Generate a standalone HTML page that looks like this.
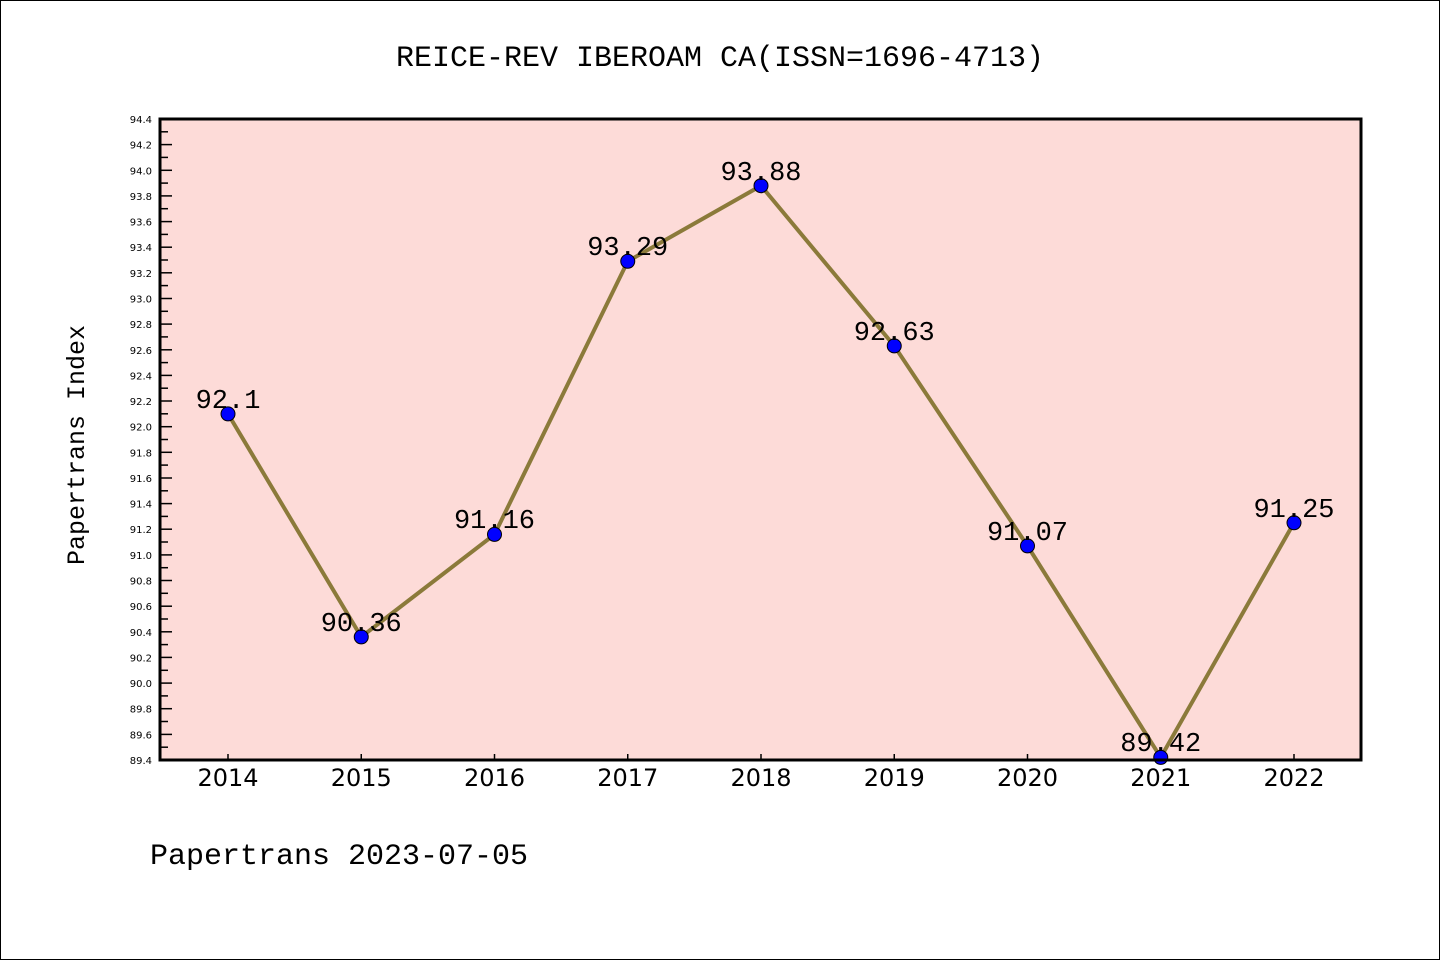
<!DOCTYPE html>
<html><head><meta charset="utf-8"><style>
html,body{margin:0;padding:0;background:#fff}
svg{display:block}
</style></head><body>
<svg width="1440" height="960" viewBox="0 0 1440 960" xmlns="http://www.w3.org/2000/svg">
<rect x="0.5" y="0.5" width="1439" height="959" fill="#fff" stroke="#000" stroke-width="1"/>
<text x="720" y="66" font-family="Liberation Mono, monospace" font-size="30" text-anchor="middle">REICE-REV IBEROAM CA(ISSN=1696-4713)</text>
<rect x="160" y="119" width="1201" height="641" fill="#fddbd8"/>
<g stroke="#000" stroke-width="1.5">
<line x1="160" y1="760" x2="172" y2="760"/><line x1="160" y1="734.4" x2="172" y2="734.4"/><line x1="160" y1="708.7" x2="172" y2="708.7"/><line x1="160" y1="683.1" x2="172" y2="683.1"/><line x1="160" y1="657.4" x2="172" y2="657.4"/><line x1="160" y1="631.8" x2="172" y2="631.8"/><line x1="160" y1="606.2" x2="172" y2="606.2"/><line x1="160" y1="580.5" x2="172" y2="580.5"/><line x1="160" y1="554.9" x2="172" y2="554.9"/><line x1="160" y1="529.2" x2="172" y2="529.2"/><line x1="160" y1="503.6" x2="172" y2="503.6"/><line x1="160" y1="478" x2="172" y2="478"/><line x1="160" y1="452.3" x2="172" y2="452.3"/><line x1="160" y1="426.7" x2="172" y2="426.7"/><line x1="160" y1="401" x2="172" y2="401"/><line x1="160" y1="375.4" x2="172" y2="375.4"/><line x1="160" y1="349.8" x2="172" y2="349.8"/><line x1="160" y1="324.1" x2="172" y2="324.1"/><line x1="160" y1="298.5" x2="172" y2="298.5"/><line x1="160" y1="272.8" x2="172" y2="272.8"/><line x1="160" y1="247.2" x2="172" y2="247.2"/><line x1="160" y1="221.6" x2="172" y2="221.6"/><line x1="160" y1="195.9" x2="172" y2="195.9"/><line x1="160" y1="170.3" x2="172" y2="170.3"/><line x1="160" y1="144.6" x2="172" y2="144.6"/>
<line x1="160" y1="747.2" x2="168" y2="747.2"/><line x1="160" y1="721.5" x2="168" y2="721.5"/><line x1="160" y1="695.9" x2="168" y2="695.9"/><line x1="160" y1="670.3" x2="168" y2="670.3"/><line x1="160" y1="644.6" x2="168" y2="644.6"/><line x1="160" y1="619" x2="168" y2="619"/><line x1="160" y1="593.3" x2="168" y2="593.3"/><line x1="160" y1="567.7" x2="168" y2="567.7"/><line x1="160" y1="542" x2="168" y2="542"/><line x1="160" y1="516.4" x2="168" y2="516.4"/><line x1="160" y1="490.8" x2="168" y2="490.8"/><line x1="160" y1="465.1" x2="168" y2="465.1"/><line x1="160" y1="439.5" x2="168" y2="439.5"/><line x1="160" y1="413.8" x2="168" y2="413.8"/><line x1="160" y1="388.2" x2="168" y2="388.2"/><line x1="160" y1="362.6" x2="168" y2="362.6"/><line x1="160" y1="336.9" x2="168" y2="336.9"/><line x1="160" y1="311.3" x2="168" y2="311.3"/><line x1="160" y1="285.6" x2="168" y2="285.6"/><line x1="160" y1="260" x2="168" y2="260"/><line x1="160" y1="234.4" x2="168" y2="234.4"/><line x1="160" y1="208.7" x2="168" y2="208.7"/><line x1="160" y1="183.1" x2="168" y2="183.1"/><line x1="160" y1="157.4" x2="168" y2="157.4"/><line x1="160" y1="131.8" x2="168" y2="131.8"/>
<line x1="228" y1="760" x2="228" y2="754"/><line x1="361.25" y1="760" x2="361.25" y2="754"/><line x1="494.5" y1="760" x2="494.5" y2="754"/><line x1="627.75" y1="760" x2="627.75" y2="754"/><line x1="761" y1="760" x2="761" y2="754"/><line x1="894.25" y1="760" x2="894.25" y2="754"/><line x1="1027.5" y1="760" x2="1027.5" y2="754"/><line x1="1160.75" y1="760" x2="1160.75" y2="754"/><line x1="1294" y1="760" x2="1294" y2="754"/>
</g>
<g font-family="DejaVu Sans, sans-serif" font-size="10" text-anchor="end">
<text x="152" y="764">89.4</text><text x="152" y="738.4">89.6</text><text x="152" y="712.7">89.8</text><text x="152" y="687.1">90.0</text><text x="152" y="661.4">90.2</text><text x="152" y="635.8">90.4</text><text x="152" y="610.2">90.6</text><text x="152" y="584.5">90.8</text><text x="152" y="558.9">91.0</text><text x="152" y="533.2">91.2</text><text x="152" y="507.6">91.4</text><text x="152" y="482">91.6</text><text x="152" y="456.3">91.8</text><text x="152" y="430.7">92.0</text><text x="152" y="405">92.2</text><text x="152" y="379.4">92.4</text><text x="152" y="353.8">92.6</text><text x="152" y="328.1">92.8</text><text x="152" y="302.5">93.0</text><text x="152" y="276.8">93.2</text><text x="152" y="251.2">93.4</text><text x="152" y="225.6">93.6</text><text x="152" y="199.9">93.8</text><text x="152" y="174.3">94.0</text><text x="152" y="148.6">94.2</text><text x="152" y="123">94.4</text>
</g>
<g font-family="DejaVu Sans, sans-serif" font-size="24" text-anchor="middle">
<text x="228" y="786">2014</text><text x="361.25" y="786">2015</text><text x="494.5" y="786">2016</text><text x="627.75" y="786">2017</text><text x="761" y="786">2018</text><text x="894.25" y="786">2019</text><text x="1027.5" y="786">2020</text><text x="1160.75" y="786">2021</text><text x="1294" y="786">2022</text>
</g>
<polyline points="228,413.9 361.25,636.9 494.5,534.4 627.75,261.3 761,185.7 894.25,345.9 1027.5,545.9 1160.75,757.4 1294,522.8" fill="none" stroke="#8b7a3a" stroke-width="4"/>
<g fill="#0000ff" stroke="#000" stroke-width="1">
<circle cx="228" cy="413.9" r="7"/><circle cx="361.25" cy="636.9" r="7"/><circle cx="494.5" cy="534.4" r="7"/><circle cx="627.75" cy="261.3" r="7"/><circle cx="761" cy="185.7" r="7"/><circle cx="894.25" cy="345.9" r="7"/><circle cx="1027.5" cy="545.9" r="7"/><circle cx="1160.75" cy="757.4" r="7"/><circle cx="1294" cy="522.8" r="7"/>
</g>
<g font-family="Liberation Mono, monospace" font-size="27" text-anchor="middle">
<text x="228" y="408">92.1</text><text x="361.25" y="631">90.36</text><text x="494.5" y="528">91.16</text><text x="627.75" y="255">93.29</text><text x="761" y="180">93.88</text><text x="894.25" y="340">92.63</text><text x="1027.5" y="540">91.07</text><text x="1160.75" y="751">89.42</text><text x="1294" y="517">91.25</text>
</g>
<rect x="160" y="119" width="1201" height="641" fill="none" stroke="#000" stroke-width="3"/>
<text transform="translate(84,445) rotate(-90)" font-family="Liberation Mono, monospace" font-size="25" text-anchor="middle">Papertrans Index</text>
<text x="150" y="864" font-family="Liberation Mono, monospace" font-size="30">Papertrans 2023-07-05</text>
</svg>
</body></html>
